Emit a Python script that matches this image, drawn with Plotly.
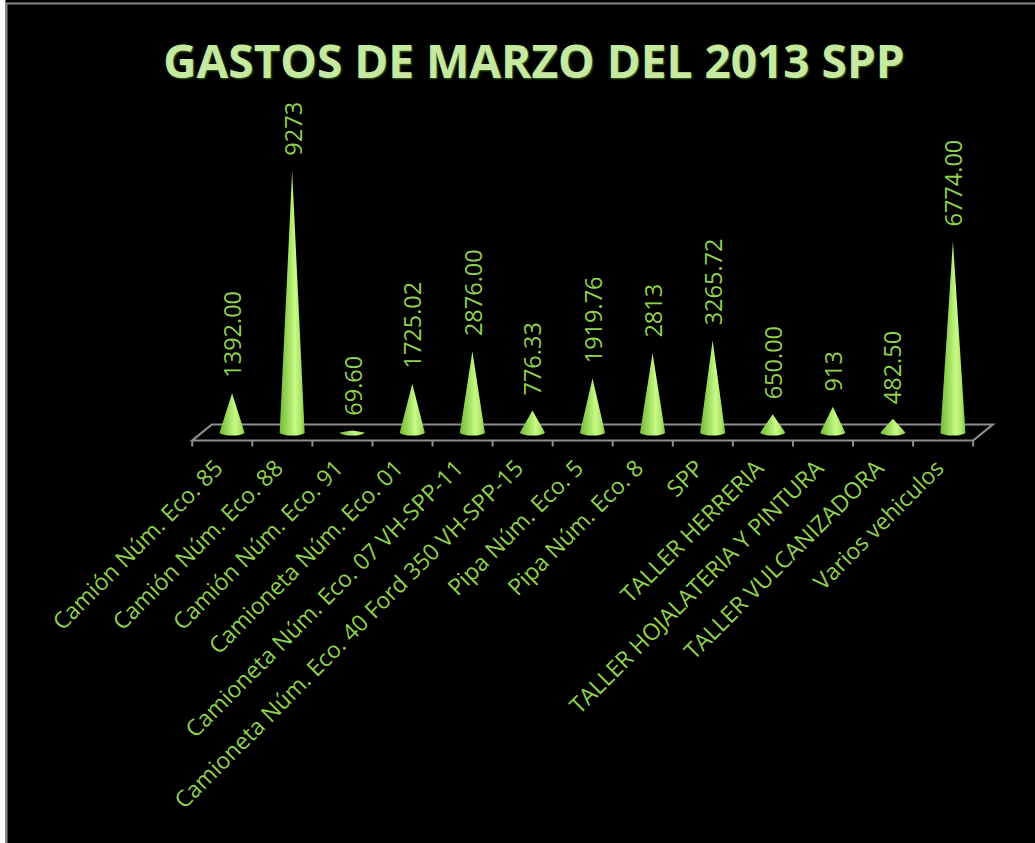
import numpy as np
import plotly.graph_objects as go

categories = [
    "Camión Núm. Eco. 85", "Camión Núm. Eco. 88", "Camión Núm. Eco. 91",
    "Camioneta Núm. Eco. 01", "Camioneta Núm. Eco. 07 VH-SPP-11",
    "Camioneta Núm. Eco. 40 Ford 350 VH-SPP-15", "Pipa Núm. Eco. 5",
    "Pipa Núm. Eco. 8", "SPP", "TALLER HERRERIA", "TALLER HOJALATERIA Y PINTURA",
    "TALLER VULCANIZADORA", "Varios vehiculos",
]
values = [1392.00, 9273, 69.60, 1725.02, 2876.00, 776.33, 1919.76, 2813,
          3265.72, 650.00, 913, 482.50, 6774.00]
value_labels = ["1392.00", "9273", "69.60", "1725.02", "2876.00", "776.33",
                "1919.76", "2813", "3265.72", "650.00", "913", "482.50", "6774.00"]
title_text = "GASTOS DE MARZO DEL 2013 SPP"

# ---- layout geometry (pixels) ----
W, H = 1035, 843
ML, MR, MT = 172, 22, 100
PLOT_BOTTOM = 449
MB = H - PLOT_BOTTOM
PW, PH = W - ML - MR, H - MT - MB
X_RANGE = [-1, 13]
ZERO_PX = 432.5
PX_PER_UNIT = 262 / 9273
Y_RANGE = [-(PLOT_BOTTOM - ZERO_PX) / PX_PER_UNIT, (ZERO_PX - MT) / PX_PER_UNIT]
ux = PW / (X_RANGE[1] - X_RANGE[0])          # px per category
uy = PH / (Y_RANGE[1] - Y_RANGE[0])          # px per value unit

def py(p):  # pixel height -> value units
    return p / uy

def px(p):  # pixel width -> category units
    return p / ux

def paper_x(p):
    return (p - ML) / PW

def paper_y(p):
    return (H - MB - p) / PH

GREEN = "#92D050"
FLOOR = "#8e8e8e"
n = len(categories)

fig = go.Figure()

# ---- floor (3-D base) ----
depth_dx, depth_dy = px(9.8), py(8)
x_front = [-0.5 - depth_dx, n - 0.5 - depth_dx]
x_back = [-0.5 + depth_dx, n - 0.5 + depth_dx]
shapes = []
shapes.append(dict(type="path", xref="x", yref="y",
                   path=f"M{x_front[0]},{-depth_dy} L{x_front[1]},{-depth_dy} "
                        f"L{x_back[1]},{depth_dy} L{x_back[0]},{depth_dy} Z",
                   line=dict(color=FLOOR, width=2.2), fillcolor="rgba(0,0,0,0)",
                   layer="below"))
for k in range(n + 1):
    xk = k - 0.5 - depth_dx
    shapes.append(dict(type="line", xref="x", yref="y", x0=xk, x1=xk,
                       y0=-depth_dy, y1=-depth_dy - py(6),
                       line=dict(color=FLOOR, width=2), layer="below"))

# ---- cones ----
half_w = px(12.5)
ell_h = py(3.2)
t = np.linspace(0, np.pi, 25)
for i, v in enumerate(values):
    xs = [i - half_w, i, i + half_w] + list(i + half_w * np.cos(t))
    ys = [0, v, 0] + list(-ell_h * np.sin(t))
    fig.add_trace(go.Scatter(
        x=xs, y=ys, mode="lines", fill="toself", line=dict(width=0, color="#8fd14f"),
        fillgradient=dict(type="horizontal",
                          colorscale=[[0, "#78ba3c"], [0.3, "#98d858"],
                                      [0.62, "#c9f986"], [0.85, "#a8e566"],
                                      [1, "#80c142"]]),
        hoverinfo="skip", showlegend=False))

# ---- value labels ----
annotations = []
for i, (v, lab) in enumerate(zip(values, value_labels)):
    annotations.append(dict(x=i, y=v, xref="x", yref="y", text=lab, textangle=-90,
                            showarrow=False, xanchor="center", yanchor="bottom",
                            yshift=13, font=dict(family="Open Sans", size=23.5, color=GREEN)))

# ---- frame: white strip + grey border ----
shapes.append(dict(type="rect", xref="paper", yref="paper",
                   x0=paper_x(0), x1=paper_x(5.5), y0=paper_y(H), y1=paper_y(0),
                   fillcolor="white", line=dict(width=0), layer="above"))
shapes.append(dict(type="line", xref="paper", yref="paper",
                   x0=paper_x(6.5), x1=paper_x(6.5), y0=paper_y(H), y1=paper_y(3),
                   line=dict(color="#888888", width=2)))
shapes.append(dict(type="line", xref="paper", yref="paper",
                   x0=paper_x(6), x1=paper_x(W), y0=paper_y(3.5), y1=paper_y(3.5),
                   line=dict(color="#888888", width=2)))

fig.update_layout(
    width=W, height=H,
    margin=dict(l=ML, r=MR, t=MT, b=MB, autoexpand=False),
    paper_bgcolor="black", plot_bgcolor="black",
    showlegend=False,
    title=dict(text=f"<b>{title_text}</b>", xref="paper", x=paper_x(534), xanchor="center",
               yref="container", y=1 - 62 / H, yanchor="middle",
               font=dict(family="Open Sans", size=46, color="#C6E8A0",
                         shadow="1px 1px 2px #3f6b1c")),
    xaxis=dict(range=X_RANGE, showgrid=False, zeroline=False, showline=False,
               tickmode="array", tickvals=[i - depth_dx - px(6) for i in range(n)],
               ticktext=categories, tickangle=-45, ticks="",
               tickfont=dict(family="Open Sans", size=23, color=GREEN), fixedrange=True),
    yaxis=dict(range=Y_RANGE, visible=False, fixedrange=True),
    shapes=shapes, annotations=annotations,
)

fig.write_html("out.html", config={"displayModeBar": False},
               post_script="document.body.style.margin='0';")
